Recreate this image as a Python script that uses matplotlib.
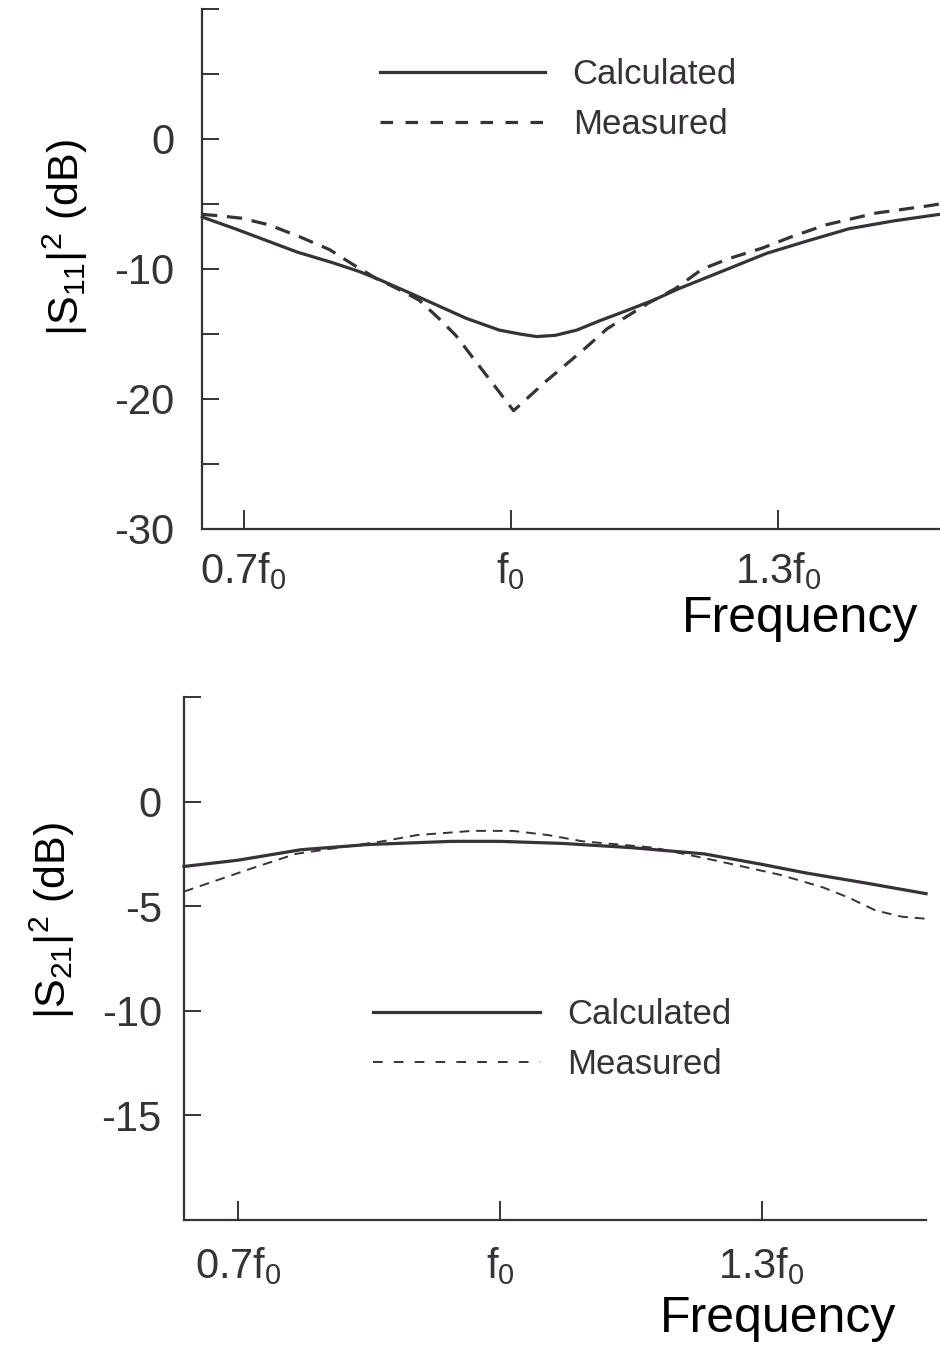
import matplotlib
matplotlib.use('Agg')
import matplotlib.pyplot as plt
from matplotlib.lines import Line2D

# |S11|^2 readings, frequency in units of f0
s11_calc_f = [0.653, 0.690, 0.725, 0.760, 0.799, 0.830, 0.855, 0.885, 0.911, 0.950, 0.987, 1.010,
              1.029, 1.050, 1.074, 1.099, 1.130, 1.160, 1.189, 1.240, 1.287, 1.335, 1.380, 1.430, 1.481]
s11_calc_db = [-6.0, -6.9, -7.8, -8.7, -9.5, -10.2, -10.9, -11.8, -12.6, -13.8, -14.7, -15.0,
               -15.2, -15.1, -14.7, -14.0, -13.2, -12.4, -11.5, -10.1, -8.8, -7.8, -6.9, -6.3, -5.8]

s11_meas_f = [0.653, 0.672, 0.698, 0.728, 0.762, 0.796, 0.826, 0.848, 0.875, 0.897, 0.919, 0.938,
              0.966, 1.003, 1.040, 1.080, 1.108, 1.129, 1.155, 1.185, 1.215, 1.245, 1.282, 1.316,
              1.354, 1.410, 1.473, 1.481]
s11_meas_db = [-5.8, -5.9, -6.1, -6.6, -7.5, -8.5, -9.8, -10.7, -11.6, -12.4, -13.8, -15.1,
               -17.6, -20.9, -18.6, -16.3, -14.6, -13.7, -12.6, -11.5, -10.0, -9.2, -8.4, -7.5,
               -6.6, -5.7, -5.1, -5.0]

# |S21|^2 readings
s21_calc_f = [0.638, 0.700, 0.772, 0.850, 0.945, 1.000, 1.072, 1.150, 1.234, 1.300, 1.349, 1.420, 1.488]
s21_calc_db = [-3.1, -2.8, -2.3, -2.05, -1.9, -1.9, -2.0, -2.2, -2.5, -3.0, -3.4, -3.9, -4.4]

s21_meas_f = [0.638, 0.680, 0.715, 0.766, 0.865, 0.905, 0.968, 1.015, 1.055, 1.095, 1.176, 1.245,
              1.321, 1.370, 1.400, 1.430, 1.460, 1.488]
s21_meas_db = [-4.3, -3.7, -3.2, -2.5, -1.9, -1.6, -1.4, -1.4, -1.6, -1.9, -2.2, -2.8,
               -3.5, -4.1, -4.6, -5.2, -5.5, -5.6]

freq_ticks = [0.7, 1.0, 1.3]
freq_labels = ['0.7f$_0$', 'f$_0$', '1.3f$_0$']

ink = '#363238'
plt.rcParams['font.family'] = ['Liberation Sans', 'DejaVu Sans']
plt.rcParams['mathtext.default'] = 'regular'
plt.rcParams['lines.scale_dashes'] = False
plt.rcParams['text.color'] = ink

fig = plt.figure(figsize=(9.4, 13.45), dpi=100)
ax1 = fig.add_axes([202/940, 1-529/1345, 738/940, 520/1345])
ax2 = fig.add_axes([184/940, 1-1220/1345, 742/940, 523/1345])


def style_axis(ax, xlim, ylim, major_y, minor_y, xpad, ypad):
    ax.set_xlim(*xlim)
    ax.set_ylim(*ylim)
    for s in ['top', 'right']:
        ax.spines[s].set_visible(False)
    for s in ['left', 'bottom']:
        ax.spines[s].set_linewidth(1.6)
        ax.spines[s].set_color(ink)
    ax.set_xticks(freq_ticks)
    ax.set_xticklabels(freq_labels)
    ax.set_yticks(major_y)
    ax.set_yticklabels([str(v) for v in major_y])
    ax.set_yticks(minor_y, minor=True)
    ax.tick_params(axis='x', direction='in', length=14, width=1.4, color=ink,
                   labelsize=30, pad=xpad, labelcolor=ink)
    ax.tick_params(axis='y', which='both', direction='in', length=12, width=1.4, color=ink,
                   labelsize=30, pad=ypad, labelcolor=ink)


style_axis(ax1, (0.653, 1.482), (-30, 10), [0, -10, -20, -30], [10, 5, -5, -15, -25], 15, 20)
style_axis(ax2, (0.638, 1.488), (-20, 5), [0, -5, -10, -15], [5], 18, 16)

ax1.plot(s11_calc_f, s11_calc_db, color=ink, lw=2.3, solid_capstyle='round', clip_on=False)
ax1.plot(s11_meas_f, s11_meas_db, color=ink, lw=2.3, dashes=(11, 7), clip_on=False)

ax2.plot(s21_calc_f, s21_calc_db, color=ink, lw=2.3, clip_on=False)
ax2.plot(s21_meas_f, s21_meas_db, color=ink, lw=1.4, dashes=(7, 5), clip_on=False)

ax1.set_ylabel('|S$_{11}$|$^{2}$ (dB)', fontsize=31)
ax1.yaxis.set_label_coords(-0.152, 0.56)
ax2.set_ylabel('|S$_{21}$|$^{2}$ (dB)', fontsize=31)
ax2.yaxis.set_label_coords(-0.144, 0.572)

ax1.set_xlabel('Frequency', fontsize=36, ha='right')
ax1.xaxis.set_label_coords(0.970, -0.128)
ax2.set_xlabel('Frequency', fontsize=36, ha='right')
ax2.xaxis.set_label_coords(0.9596, -0.146)

# legends
h1 = [Line2D([], [], color=ink, lw=2.3), Line2D([], [], color=ink, lw=2.3, dashes=(9, 9))]
ax1.legend(h1, ['Calculated', 'Measured'], loc='upper left', bbox_to_anchor=(380/940, 1-58/1345),
           bbox_transform=fig.transFigure, frameon=False, borderpad=0, borderaxespad=0,
           handlelength=4.75, handletextpad=0.8, labelspacing=0.49, fontsize=25)

h2 = [Line2D([], [], color=ink, lw=2.3), Line2D([], [], color=ink, lw=1.4, dashes=(7, 8))]
ax2.legend(h2, ['Calculated', 'Measured'], loc='upper left', bbox_to_anchor=(373/940, 1-998/1345),
           bbox_transform=fig.transFigure, frameon=False, borderpad=0, borderaxespad=0,
           handlelength=4.8, handletextpad=0.8, labelspacing=0.49, fontsize=25)

fig.savefig('out.png', dpi=100, facecolor='white')
